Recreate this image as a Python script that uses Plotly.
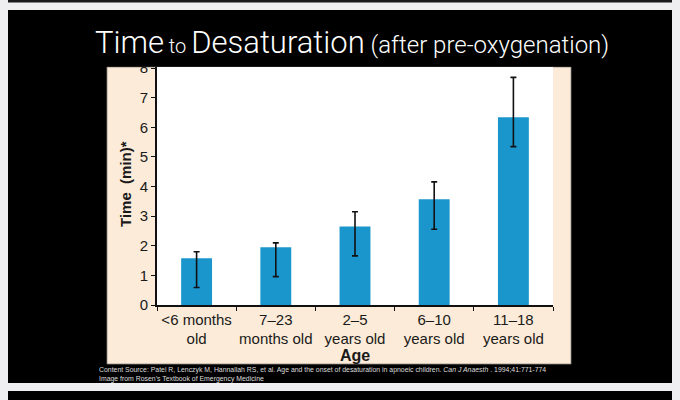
import plotly.graph_objects as go

W, H = 680, 400
L, R, T, B = 157, 553, 67, 305  # plot area in pixels

# --- data ---
age_groups = ["<6 months<br>old", "7–23<br>months old", "2–5<br>years old",
              "6–10<br>years old", "11–18<br>years old"]
time_min = [1.58, 1.95, 2.65, 3.57, 6.34]
err_high = [1.80, 2.10, 3.15, 4.16, 7.69]
err_low = [0.59, 0.96, 1.66, 2.56, 5.35]
y_ticks = [0, 1, 2, 3, 4, 5, 6, 7, 8]

plus = [h - v for h, v in zip(err_high, time_min)]
minus = [v - l for l, v in zip(err_low, time_min)]


# "paper" coordinates are relative to the plot area, so map from page pixels
def px_x(p):
    return (p - L) / (R - L)


def px_y(p):
    return (B - p) / (B - T)


fig = go.Figure(go.Bar(
    x=age_groups, y=time_min,
    marker=dict(color="#1a96cc", line=dict(width=0)),
    error_y=dict(type="data", symmetric=False, array=plus, arrayminus=minus,
                 color="#111111", thickness=1.6, width=3),
    hoverinfo="y",
))


def rect(x0, y0, x1, y1, fill, layer="below", line=None):
    return dict(type="rect", xref="paper", yref="paper",
                x0=px_x(x0), x1=px_x(x1), y0=px_y(y1), y1=px_y(y0),
                fillcolor=fill, line=line or dict(width=0), layer=layer)


shapes = [
    # slide backgrounds
    rect(8, 10, 672, 383, "black"),
    rect(8, 391, 672, 400, "black"),
    rect(8, 0, 672, 2.5, "#1a1a1a"),
    # cream figure panel
    rect(107, 67, 571, 364, "#fcebd8", line=dict(color="#8a8580", width=0.8)),
    # white plotting area
    dict(type="rect", xref="x domain", yref="y domain", x0=0, x1=1, y0=0, y1=1,
         fillcolor="white", line_width=0, layer="below"),
    # crop of the top of the source image
    rect(100, 56, 580, 66.5, "black", layer="above"),
]

title = ("<span style='font-size:31px'>Time</span>"
         "<span style='font-size:20px'> to </span>"
         "<span style='font-size:31px'>Desaturation</span>"
         "<span style='font-size:24px'> (after pre-oxygenation)</span>")

annotations = [
    dict(text=title, xref="paper", yref="paper", x=px_x(352), y=px_y(43),
         xanchor="center", yanchor="middle", showarrow=False,
         font=dict(family="Roboto, sans-serif", weight=300, color="white", size=31)),
    dict(text="<b>Time  (min)*</b>", xref="paper", yref="paper", x=px_x(125), y=px_y(184),
         xanchor="center", yanchor="middle", textangle=-90, showarrow=False,
         font=dict(family="Liberation Sans, Arial, sans-serif", color="#1a1a1a", size=15)),
    dict(text="<b>Age</b>", xref="paper", yref="paper", x=px_x(355), y=px_y(355),
         xanchor="center", yanchor="middle", showarrow=False,
         font=dict(family="Liberation Sans, Arial, sans-serif", color="#1a1a1a", size=16)),
    dict(text="Content Source: Patel R, Lenczyk M, Hannallah RS, et al. Age and the onset of "
              "desaturation in apnoeic children. <i>Can J Anaesth</i> . 1994;41:771-774"
              "<br>Image from Rosen’s Textbook of Emergency Medicine",
         xref="paper", yref="paper", x=px_x(97), y=px_y(364),
         xanchor="left", yanchor="top", align="left", showarrow=False,
         font=dict(family="Liberation Sans, Arial, sans-serif", color="#dddddd", size=6.9)),
]

fig.update_layout(
    width=W, height=H,
    margin=dict(l=L, r=W - R, t=T, b=H - B, pad=0),
    paper_bgcolor="#efeff2", plot_bgcolor="rgba(0,0,0,0)",
    bargap=0.61, showlegend=False,
    shapes=shapes, annotations=annotations,
    font=dict(family="Liberation Sans, Arial, sans-serif", color="#1a1a1a", size=15),
)
fig.update_xaxes(
    type="category", showline=True, linecolor="#111111", linewidth=1.6,
    ticks="outside", tickson="boundaries", ticklen=4, tickwidth=1.4, tickcolor="#111111",
    tickangle=0, showgrid=False, tickfont=dict(size=15, color="#1a1a1a"), fixedrange=True,
)
fig.update_yaxes(
    range=[0, 8.04], tickvals=y_ticks, showline=True, linecolor="#111111", linewidth=1.6,
    ticks="outside", ticklen=4, tickwidth=1.4, tickcolor="#111111",
    showgrid=False, zeroline=False, tickfont=dict(size=15, color="#1a1a1a"), fixedrange=True,
)

# page body has a default 8px margin; drop it so the figure fills the window
fig.write_html("out.html", config={"displayModeBar": False},
               post_script="document.body.style.margin='0';")
